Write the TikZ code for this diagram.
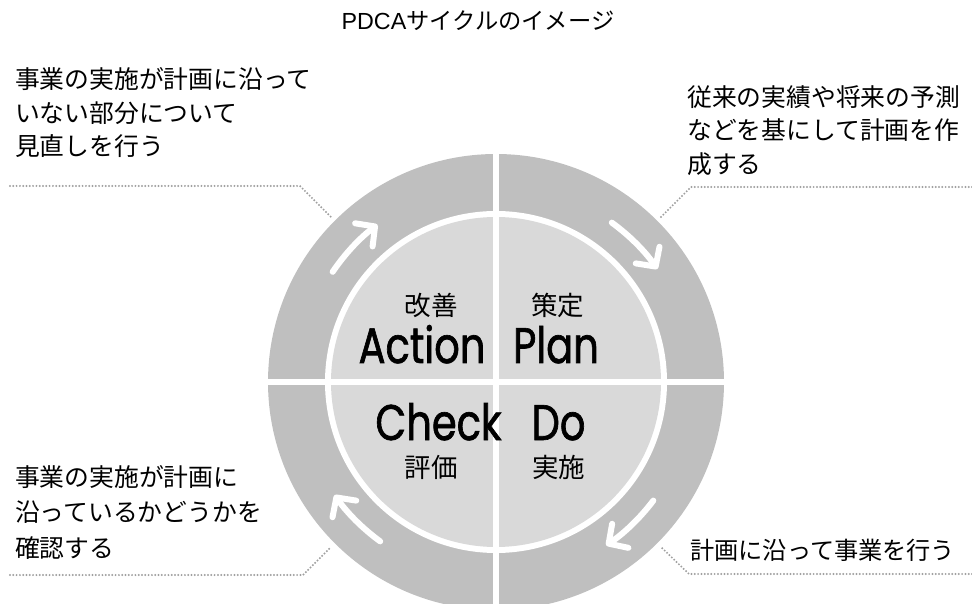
\documentclass[tikz,border=0pt]{standalone}
\usepackage{fontspec}
\setmainfont{Liberation Sans}
\newfontfamily\jp{Noto Sans CJK JP}
\newfontfamily\geo[FakeStretch=0.8,FakeBold=1.3]{Poppins}
\usetikzlibrary{arrows.meta,calc}
\definecolor{ringgray}{HTML}{BFBFBF}
\definecolor{innergray}{HTML}{D9D9D9}
\definecolor{dotgray}{HTML}{A0A0A0}
\begin{document}
\begin{tikzpicture}[x=1pt,y=1pt,
  side/.style={anchor=base west, inner sep=0pt, font=\jp\fontsize{24.8}{30}\selectfont},
  jlabel/.style={anchor=base, inner sep=0pt, text height=19pt, text depth=2pt, font=\jp\fontsize{26.5}{32}\selectfont},
  big/.style={anchor=base, inner sep=0pt, text height=36pt, text depth=0pt, font=\geo\fontsize{50}{60}\selectfont},
  leader/.style={draw=dotgray, line width=2.2pt, dash pattern=on 0pt off 3.3pt, line cap=round},
  cyc/.style={draw=white, line width=6pt, line cap=round, -{Straight Barb[length=14pt,width=29pt,round]}},
  sep/.style={draw=white, line width=6.5pt}]
\useasboundingbox (0,0) rectangle (972,603);
\clip (0,0) rectangle (972,603);
\coordinate (C) at (496,221);
% ring
\fill[ringgray] (C) circle[radius=228];
\fill[white] (C) circle[radius=171];
\fill[innergray] (C) circle[radius=165];
\draw[sep] ($(C)+(0,229)$) -- ($(C)-(0,229)$);
\draw[sep] ($(C)-(229,0)$) -- ($(C)+(229,0)$);
% cycle arrows
\draw[cyc] ($(C)+(146:197)$) arc[start angle=146, end angle=127, radius=197];
\draw[cyc] ($(C)+(54:197)$) arc[start angle=54, end angle=35, radius=197];
\draw[cyc] ($(C)+(-37:197)$) arc[start angle=-37, end angle=-56, radius=197];
\draw[cyc] ($(C)+(-126:197)$) arc[start angle=-126, end angle=-145, radius=197];
% leader lines
\coordinate (tlA) at (10,417); \coordinate (tlB) at (300,417); \coordinate (tlC) at (331,386);
\coordinate (trA) at (972,416); \coordinate (trB) at (691,416); \coordinate (trC) at (661,386);
\coordinate (blA) at (10,28); \coordinate (blB) at (303,28); \coordinate (blC) at (331,56);
\coordinate (brA) at (972,29); \coordinate (brB) at (689,29); \coordinate (brC) at (661,56);
\draw[leader] (tlA) -- (tlB) -- (tlC);
\draw[leader] (trA) -- (trB) -- (trC);
\draw[leader] (blA) -- (blB) -- (blC);
\draw[leader] (brA) -- (brB) -- (brC);
% title
\node[anchor=base, inner sep=0pt] (title) at (478,573) {\fontsize{23.3}{28}\selectfont PDCA{\jp サイクルのイメージ}};
% side texts
\node[side] (tl1) at (15,514.5) {事業の実施が計画に沿って};
\node[side] (tl2) at (15,480.5) {いない部分について};
\node[side] (tl3) at (15,447.5) {見直しを行う};
\node[side] (tr1) at (687,496.5) {従来の実績や将来の予測};
\node[side] (tr2) at (687,463) {などを基にして計画を作};
\node[side] (tr3) at (687,429.5) {成する};
\node[side] (bl1) at (15,117) {事業の実施が計画に};
\node[side] (bl2) at (15,82) {沿っているかどうかを};
\node[side] (bl3) at (15,46) {確認する};
\node[side, font=\jp\fontsize{24.2}{30}\selectfont] (br1) at (690,43.5) {計画に沿って事業を行う};
% inner labels
\node[jlabel] (kaizen) at (431,287) {改善};
\node[jlabel] (sakutei) at (557.5,287) {策定};
\node[jlabel] (hyoka) at (431,126) {評価};
\node[jlabel] (jisshi) at (558.5,126) {実施};
\node[big] (action) at (422,240) {Action};
\node[big] (plan) at (556,240) {Plan};
\node[big] (check) at (438.5,163) {Check};
\node[big] (do) at (558.5,163) {Do};
\end{tikzpicture}
\end{document}
